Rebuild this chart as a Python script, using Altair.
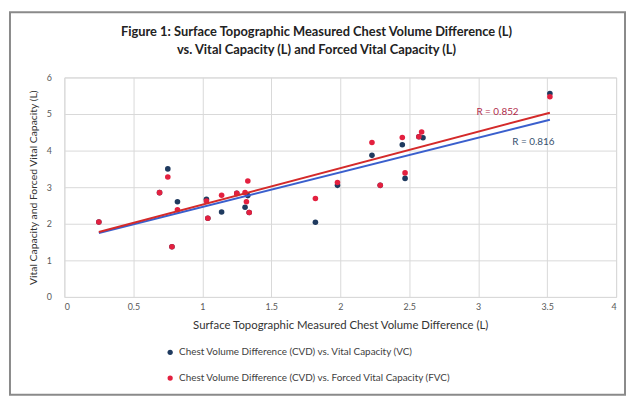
import altair as alt
import pandas as pd

# Chest volume difference (L) vs. Vital Capacity (L)
cvd_vc = [0.25, 0.69, 0.75, 0.78, 0.82, 1.03, 1.04, 1.14, 1.25, 1.31, 1.33,
          1.34, 1.82, 1.98, 2.23, 2.29, 2.45, 2.47, 2.57, 2.60, 3.52]
vc = [2.05, 2.85, 3.50, 1.37, 2.60, 2.67, 2.15, 2.32, 2.83, 2.45, 2.77,
      2.31, 2.04, 3.05, 3.87, 3.05, 4.16, 3.24, 4.38, 4.35, 5.56]

# Chest volume difference (L) vs. Forced Vital Capacity (L)
cvd_fvc = [0.25, 0.69, 0.75, 0.78, 0.82, 1.03, 1.04, 1.14, 1.25, 1.31, 1.32,
           1.33, 1.34, 1.82, 1.98, 2.23, 2.29, 2.45, 2.47, 2.57, 2.59, 3.52]
fvc = [2.05, 2.85, 3.28, 1.37, 2.38, 2.62, 2.15, 2.78, 2.83, 2.85, 2.60,
       3.17, 2.31, 2.69, 3.13, 4.22, 3.05, 4.36, 3.39, 4.38, 4.51, 5.47]

series_names = [
    "Chest Volume Difference (CVD) vs. Vital Capacity (VC)",
    "Chest Volume Difference (CVD) vs. Forced Vital Capacity (FVC)",
]
r_labels = ["R = 0.816", "R = 0.852"]
r_label_x = [3.40, 3.14]
r_label_y = [4.24, 5.05]

x_ticks = [0, 0.5, 1, 1.5, 2, 2.5, 3, 3.5, 4]
y_ticks = [0, 1, 2, 3, 4, 5, 6]

point_colors = ["#1f3a5f", "#e3203f"]
line_colors = ["#3a5fcd", "#d42a2a"]
label_colors = ["#34506e", "#b02a4a"]

FONT = "Lato"

df_vc = pd.DataFrame({"cvd": cvd_vc, "cap": vc, "series": series_names[0], "k": 0})
df_fvc = pd.DataFrame({"cvd": cvd_fvc, "cap": fvc, "series": series_names[1], "k": 1})
df = pd.concat([df_vc, df_fvc], ignore_index=True)

x_axis = alt.Axis(
    values=x_ticks, format="~g", labelOverlap=False,
    title="Surface Topographic Measured Chest Volume Difference (L)",
    titleFontSize=11.5, titleFontWeight="normal", titleColor="#333333",
    titlePadding=8, labelPadding=6,
)
y_axis = alt.Axis(
    values=y_ticks, format="~g", labelOverlap=False,
    title="Vital Capacity and Forced Vital Capacity (L)",
    titleFontSize=10.5, titleFontWeight="normal", titleColor="#333333",
    titlePadding=8, labelPadding=13,
)
x_scale = alt.Scale(domain=[0, 4], nice=False, zero=False)
y_scale = alt.Scale(domain=[0, 6], nice=False)

def X():
    return alt.X("cvd:Q", scale=x_scale, axis=x_axis)

def Y():
    return alt.Y("cap:Q", scale=y_scale, axis=y_axis)

points = alt.Chart(df).mark_circle(size=32, opacity=1).encode(
    x=X(),
    y=Y(),
    color=alt.Color(
        "series:N",
        scale=alt.Scale(domain=series_names, range=point_colors),
        sort=series_names,
        legend=alt.Legend(
            title=None, orient="none", legendX=102, legendY=273,
            direction="vertical", symbolType="circle", symbolSize=28,
            labelFontSize=10, labelColor="#404040", labelFont=FONT,
            rowPadding=16, labelLimit=0,
        ),
    ),
    order=alt.Order("k:Q", sort="ascending"),
)

def trend(d, color):
    return alt.Chart(d).transform_regression("cvd", "cap").mark_line(
        color=color, strokeWidth=2, clip=True
    ).encode(x=X(), y=Y())

lines = trend(df_vc, line_colors[0]) + trend(df_fvc, line_colors[1])

ann = pd.DataFrame({"cvd": r_label_x, "cap": r_label_y, "label": r_labels,
                    "series": series_names})
labels = alt.Chart(ann).mark_text(fontSize=10, font=FONT).encode(
    x=X(), y=Y(), text="label:N",
    color=alt.Color("series:N", scale=alt.Scale(domain=series_names, range=label_colors), legend=None),
)

# outer chart-area frame (decoration)
frame = alt.Chart(pd.DataFrame({"f": [0]})).mark_rect(
    filled=False, stroke="#8a8a8a", strokeWidth=2, clip=False
).encode(
    x=alt.value(-55), x2=alt.value(567), y=alt.value(-66), y2=alt.value(321)
)

chart = alt.layer(frame, points, lines, labels).resolve_scale(color="independent").properties(
    width=558,
    height=222,
    autosize=alt.AutoSizeParams(type="none"),
    padding={"left": 57, "top": 68, "right": 10, "bottom": 100},
    title=alt.TitleParams(
        text=["Figure 1: Surface Topographic Measured Chest Volume Difference (L)",
              "vs. Vital Capacity (L) and Forced Vital Capacity (L)"],
        fontSize=13, fontWeight="bold", font=FONT, color="#222222",
        anchor="middle", dx=-24, offset=16, dy=62, lineHeight=18,
    ),
).configure(font=FONT).configure_axis(
    gridColor="#d9d9d9", domain=False, ticks=False,
    labelFontSize=9, labelColor="#595959", labelFont=FONT, titleFont=FONT,
).configure_view(stroke="#d9d9d9")

chart.save("out.html", embed_options={"renderer": "svg", "actions": False})
